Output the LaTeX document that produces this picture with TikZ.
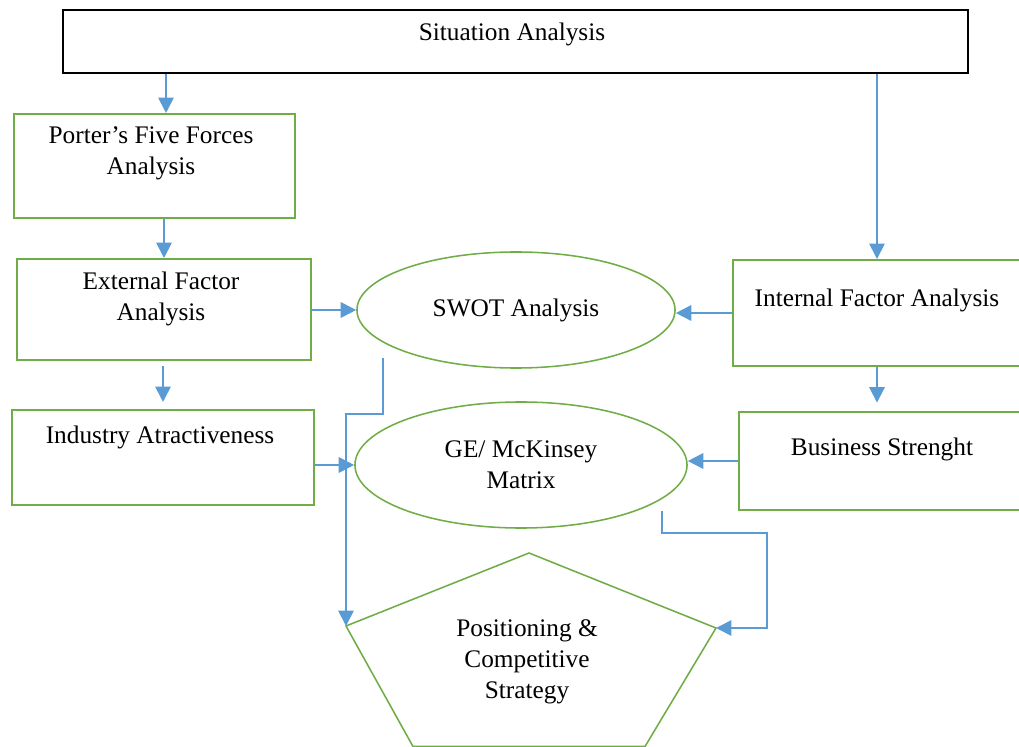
\documentclass[tikz,border=0pt]{standalone}
\usepackage{fontspec}
\setmainfont{Liberation Serif}
\usetikzlibrary{arrows.meta,calc,positioning,shapes.geometric}
\definecolor{boxgreen}{RGB}{112,173,71}
\definecolor{flowblue}{RGB}{91,155,213}
\newcommand{\diagfont}{\fontsize{18}{22}\selectfont}

\begin{document}
\begin{tikzpicture}[x=0.025cm, y=-0.025cm,
        box/.style={draw=boxgreen, line width=1.4pt, inner sep=0pt},
        oval/.style={ellipse, draw=boxgreen, line width=1.1pt, inner sep=0pt, align=center, font=\diagfont},
        txt/.style={align=center, inner sep=0pt, font=\diagfont},
        flow/.style={draw=flowblue, line width=1.3pt, -{Triangle[length=11pt,width=11pt]}}]
        \useasboundingbox (0,0) rectangle (1019,747);
        \clip (0,0) rectangle (1019,747);

        % boxes
        \node [draw=black, line width=1.5pt, inner sep=0pt, minimum width=22.625cm, minimum height=1.575cm] (sit) at (515.5,41.5) {};
        \node [box, minimum width=7.025cm, minimum height=2.6cm] (porter) at (154.5,166) {};
        \node [box, minimum width=7.35cm, minimum height=2.525cm] (ext) at (164,309.5) {};
        \node [box, minimum width=7.55cm, minimum height=2.375cm] (ind) at (163,457.5) {};
        \node [box, minimum width=7.2cm, minimum height=2.65cm] (intf) at (877,313) {};
        \node [box, minimum width=7.15cm, minimum height=2.45cm] (bus) at (882,461) {};
        \node [oval, minimum width=7.95cm, minimum height=2.9cm] (swot) at (516,310) {SWOT Analysis};
        \node [oval, minimum width=8.3cm, minimum height=3.15cm] (ge) at (521,465) {GE/ McKinsey\\Matrix};

        % pentagon
        \coordinate (ptop) at (529,553);
        \coordinate (pright) at (716,628);
        \coordinate (pbr) at (645,746.5);
        \coordinate (pbl) at (413,746.5);
        \coordinate (pleft) at (346,626);
        \draw [draw=boxgreen, line width=1.1pt] (ptop) -- (pright) -- (pbr) -- (pbl) -- (pleft) -- cycle;

        % texts
        \node [txt] (sitTxt) at (512,34) {Situation Analysis};
        \node [txt] (porterTxt) at (151,153.5) {Porter’s Five Forces\\Analysis};
        \node [txt] (extTxt) at (161,299) {External Factor\\Analysis};
        \node [txt] (indTxt) at (160,437) {Industry Atractiveness};
        \node [txt] (intfTxt) at (877,300) {Internal Factor Analysis};
        \node [txt] (busTxt) at (882,449) {Business Strenght};
        \node [txt] (strategy) at (527,661.5) {Positioning \&\\Competitive\\Strategy};

        % arrows
        \coordinate (porterIn) at ($(porter.north)+(11.5,0)$);
        \draw [flow] (sit.south -| porterIn) -- (porterIn);
        \draw [flow] (porter.south -| ext.north) -- (ext.north);
        \draw [flow, shorten <=3.5pt, shorten >=5pt] (ext.south -| ind.north) -- (ind.north);
        \draw [flow] (sit.south -| intf.north) -- (intf.north);
        \draw [flow, shorten >=6pt] (intf.south) -- (bus.north -| intf.south);
        \draw [flow] (ext.east |- swot.west) -- (swot.west);
        \draw [flow] (ind.east |- ge.west) -- (ge.west);
        \draw [flow] (intf.west) -- (swot.east |- intf.west);
        \draw [flow] (bus.west) -- (ge.east |- bus.west);
        \coordinate (swotOut) at ($(swot.south)+(-133,-11)$);
        \draw [flow] (swotOut) -- ++(0,56) -| (pleft);
        \coordinate (geOut) at ($(ge.south)+(141,-18)$);
        \draw [flow] (geOut) -- ++(0,22) -| ($(pright)+(51,0)$) -- (pright);
\end{tikzpicture}
\end{document}
